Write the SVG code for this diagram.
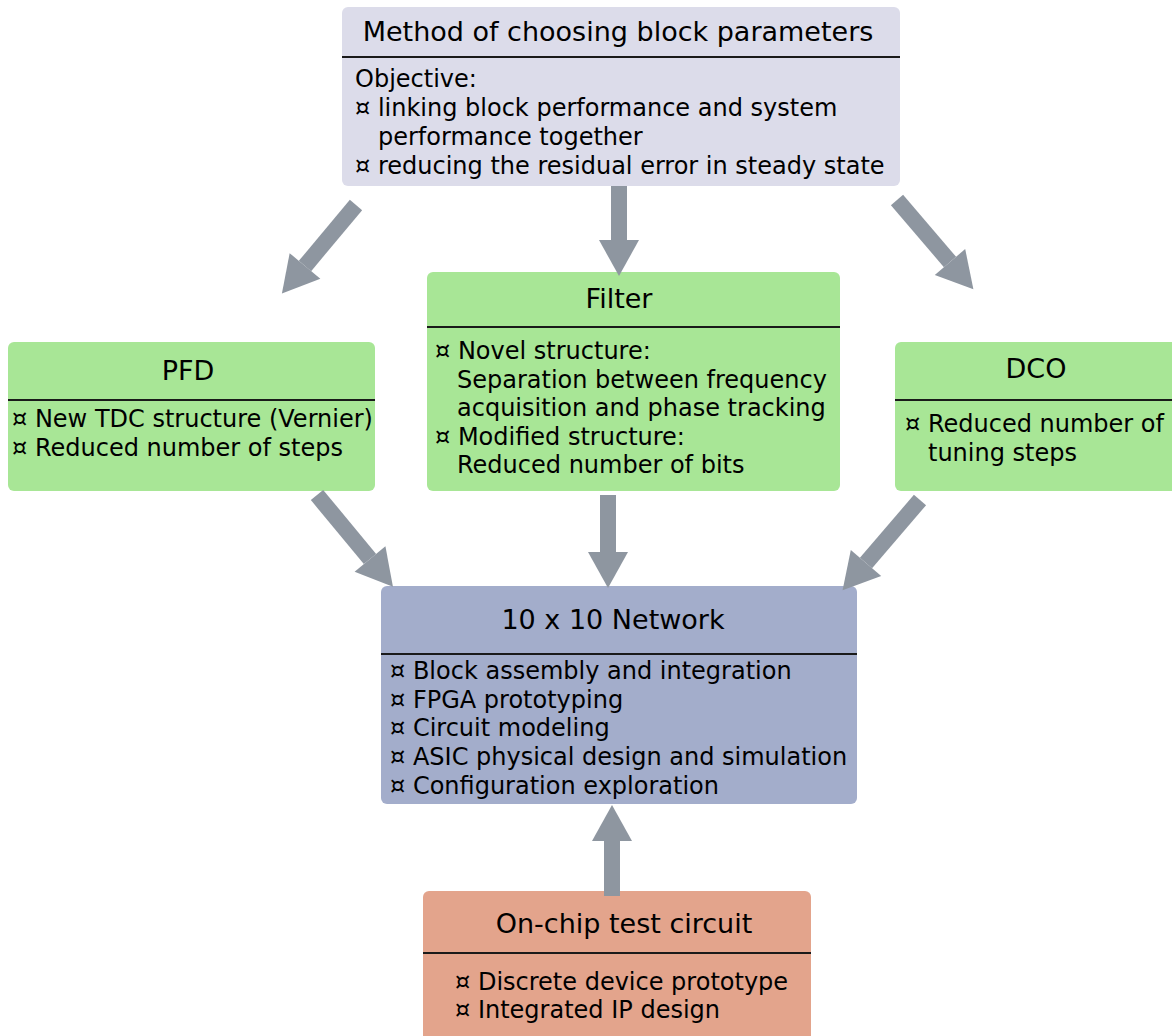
<svg xmlns="http://www.w3.org/2000/svg" width="1172" height="1036" viewBox="0 0 1172 1036">
<defs>
<style>
.t{font-family:"DejaVu Sans",sans-serif;font-size:27px;fill:#000;text-anchor:middle}
.b{font-family:"DejaVu Sans",sans-serif;font-size:24px;fill:#000}
.sep{stroke:#1a1a1a;stroke-width:2}
.arr{stroke:#8e96a0;stroke-width:16;fill:none;marker-end:url(#ah)}
</style>
<marker id="ah" markerUnits="strokeWidth" markerWidth="2.25" markerHeight="2.5" refX="0" refY="1.25" orient="auto" overflow="visible">
<path d="M0,0 L2.25,1.25 L0,2.5 z" fill="#8e96a0"/>
</marker>
</defs>
<rect width="1172" height="1036" fill="#fff"/>
<g id="method">
<rect x="342" y="7" width="558" height="179" rx="6" fill="#dcdcea"/>
<text class="t" x="618" y="41">Method of choosing block parameters</text>
<line class="sep" x1="342" y1="57" x2="900" y2="57"/>
<text class="b" x="355" y="87">Objective:</text>
<text class="b" x="355" y="116">¤ linking block performance and system</text>
<text class="b" x="378" y="145">performance together</text>
<text class="b" x="355" y="174">¤ reducing the residual error in steady state</text>
</g>
<g id="filter">
<rect x="427" y="272" width="413" height="219" rx="6" fill="#a8e696"/>
<text class="t" x="619" y="308">Filter</text>
<line class="sep" x1="427" y1="327" x2="840" y2="327"/>
<text class="b" x="435" y="359">¤ Novel structure:</text>
<text class="b" x="457" y="388">Separation between frequency</text>
<text class="b" x="457" y="416">acquisition and phase tracking</text>
<text class="b" x="435" y="445">¤ Modified structure:</text>
<text class="b" x="457" y="473">Reduced number of bits</text>
</g>
<g id="pfd">
<rect x="8" y="342" width="367" height="149" rx="6" fill="#a8e696"/>
<text class="t" x="188" y="380">PFD</text>
<line class="sep" x1="8" y1="400" x2="375" y2="400"/>
<text class="b" x="12" y="427">¤ New TDC structure (Vernier)</text>
<text class="b" x="12" y="456">¤ Reduced number of steps</text>
</g>
<g id="dco">
<rect x="895" y="342" width="290" height="149" rx="6" fill="#a8e696"/>
<text class="t" x="1036" y="378">DCO</text>
<line class="sep" x1="895" y1="400" x2="1172" y2="400"/>
<text class="b" x="905" y="432">¤ Reduced number of</text>
<text class="b" x="928" y="461">tuning steps</text>
</g>
<g id="network">
<rect x="381" y="586" width="476" height="218" rx="6" fill="#a3adcb"/>
<text class="t" x="613" y="629">10 x 10 Network</text>
<line class="sep" x1="381" y1="654" x2="857" y2="654"/>
<text class="b" x="390" y="679">¤ Block assembly and integration</text>
<text class="b" x="390" y="708">¤ FPGA prototyping</text>
<text class="b" x="390" y="736">¤ Circuit modeling</text>
<text class="b" x="390" y="765">¤ ASIC physical design and simulation</text>
<text class="b" x="390" y="794">¤ Configuration exploration</text>
</g>
<g id="onchip">
<rect x="423" y="891" width="388" height="160" rx="6" fill="#e3a48c"/>
<text class="t" x="624" y="933">On-chip test circuit</text>
<line class="sep" x1="423" y1="953" x2="811" y2="953"/>
<text class="b" x="455" y="990">¤ Discrete device prototype</text>
<text class="b" x="455" y="1018">¤ Integrated IP design</text>
</g>
<g id="connectors">
<line class="arr" x1="356" y1="205" x2="305" y2="266"/>
<line class="arr" x1="619" y1="186" x2="619" y2="240"/>
<line class="arr" x1="897" y1="200" x2="950" y2="262"/>
<line class="arr" x1="317" y1="495" x2="370" y2="559"/>
<line class="arr" x1="608" y1="495" x2="608" y2="552"/>
<line class="arr" x1="920" y1="500" x2="866" y2="563"/>
<line class="arr" x1="612" y1="896" x2="612" y2="841"/>
</g>
</svg>
